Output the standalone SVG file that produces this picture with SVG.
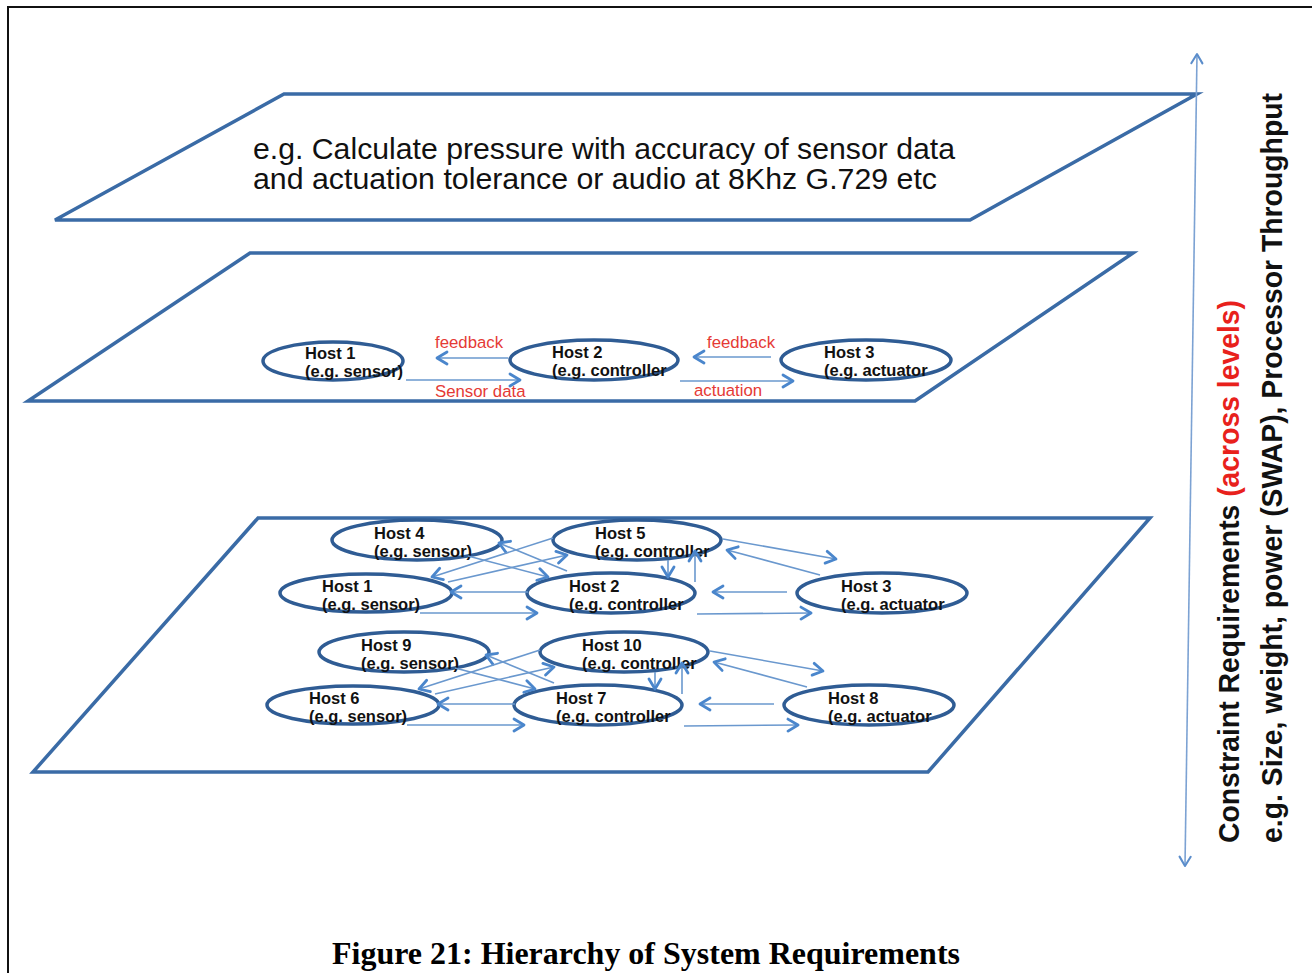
<svg xmlns="http://www.w3.org/2000/svg" width="1312" height="973" viewBox="0 0 1312 973">
  <style>
    .plane { fill: none; stroke: #3A6BA6; stroke-width: 3.5; stroke-linejoin: miter; }
    .node ellipse { fill: none; stroke: #2F5C94; stroke-width: 3.5; }
    .node text { font-family: "Liberation Sans", Arial, sans-serif; font-size: 16.5px; font-weight: bold; fill: #111; }
    .link { stroke: #6A98CE; stroke-width: 1.6; fill: none; marker-end: url(#ah); }
    .lbl { font-family: "Liberation Sans", Arial, sans-serif; font-size: 16.8px; fill: #E53A35; }
    .big { font-family: "Liberation Sans", Arial, sans-serif; font-size: 30px; fill: #111; }
    .side { font-family: "Liberation Sans", Arial, sans-serif; font-size: 30px; font-weight: bold; fill: #111; }
    .cap { font-family: "Liberation Serif", "Times New Roman", serif; font-size: 32px; font-weight: bold; fill: #000; }
  </style>
  <defs>
    <marker id="ah" viewBox="0 0 14 16" refX="12" refY="8" markerWidth="14" markerHeight="16" markerUnits="userSpaceOnUse" orient="auto">
      <path d="M2,2 L12,8 L2,14" fill="none" stroke="#4A86CC" stroke-width="2.8" stroke-linecap="round" stroke-linejoin="round"/>
    </marker>
    <marker id="ahv" viewBox="0 0 14 16" refX="12" refY="8" markerWidth="13" markerHeight="15" markerUnits="userSpaceOnUse" orient="auto-start-reverse">
      <path d="M2,2 L12,8 L2,14" fill="none" stroke="#5B8DCB" stroke-width="2.2" stroke-linecap="round" stroke-linejoin="round"/>
    </marker>
  </defs>

  <rect width="1312" height="973" fill="#fff"/>
  <!-- page frame -->
  <path d="M8,973 V7 H1312" fill="none" stroke="#111" stroke-width="2"/>

  <!-- three abstraction layers -->
  <g id="layer-top">
    <polygon class="plane" points="284,94 1197,94 970,220 55,220"/>
    <text class="big" x="253" y="159" textLength="702" lengthAdjust="spacingAndGlyphs">e.g. Calculate pressure with accuracy of sensor data</text>
    <text class="big" x="253" y="189" textLength="684" lengthAdjust="spacingAndGlyphs">and actuation tolerance or audio at 8Khz G.729 etc</text>
  </g>
  <g id="layer-middle">
    <polygon class="plane" points="250,253 1133,253 915,401 28,401"/>
  </g>
  <g id="layer-bottom">
    <polygon class="plane" points="258,518 1150,518 928,772 33,772"/>
  </g>

  <!-- middle layer hosts -->
  <g id="m-host1" class="node">
    <ellipse cx="333" cy="361" rx="70" ry="19"/>
    <text x="305" y="359">Host 1</text>
    <text x="305" y="377">(e.g. sensor)</text>
  </g>
  <g id="m-host2" class="node">
    <ellipse cx="594" cy="360" rx="84" ry="20"/>
    <text x="552" y="358">Host 2</text>
    <text x="552" y="376">(e.g. controller</text>
  </g>
  <g id="m-host3" class="node">
    <ellipse cx="866" cy="360" rx="85" ry="20"/>
    <text x="824" y="358">Host 3</text>
    <text x="824" y="376">(e.g. actuator</text>
  </g>

  <!-- bottom layer, cluster A -->
  <g id="b-host4" class="node">
    <ellipse cx="417" cy="540" rx="85" ry="20"/>
    <text x="374" y="539">Host 4</text>
    <text x="374" y="557">(e.g. sensor)</text>
  </g>
  <g id="b-host5" class="node">
    <ellipse cx="637" cy="540" rx="84" ry="20"/>
    <text x="595" y="539">Host 5</text>
    <text x="595" y="557">(e.g. controller</text>
  </g>
  <g id="b-host1" class="node">
    <ellipse cx="366" cy="593" rx="86" ry="19"/>
    <text x="322" y="592">Host 1</text>
    <text x="322" y="610">(e.g. sensor)</text>
  </g>
  <g id="b-host2" class="node">
    <ellipse cx="611" cy="593" rx="84" ry="20"/>
    <text x="569" y="592">Host 2</text>
    <text x="569" y="610">(e.g. controller</text>
  </g>
  <g id="b-host3" class="node">
    <ellipse cx="882" cy="593" rx="85" ry="20"/>
    <text x="841" y="592">Host 3</text>
    <text x="841" y="610">(e.g. actuator</text>
  </g>

  <!-- bottom layer, cluster B -->
  <g id="b-host9" class="node">
    <ellipse cx="404" cy="652" rx="85" ry="20"/>
    <text x="361" y="651">Host 9</text>
    <text x="361" y="669">(e.g. sensor)</text>
  </g>
  <g id="b-host10" class="node">
    <ellipse cx="624" cy="652" rx="84" ry="20"/>
    <text x="582" y="651">Host 10</text>
    <text x="582" y="669">(e.g. controller</text>
  </g>
  <g id="b-host6" class="node">
    <ellipse cx="353" cy="705" rx="86" ry="19"/>
    <text x="309" y="704">Host 6</text>
    <text x="309" y="722">(e.g. sensor)</text>
  </g>
  <g id="b-host7" class="node">
    <ellipse cx="598" cy="705" rx="84" ry="20"/>
    <text x="556" y="704">Host 7</text>
    <text x="556" y="722">(e.g. controller</text>
  </g>
  <g id="b-host8" class="node">
    <ellipse cx="869" cy="705" rx="85" ry="20"/>
    <text x="828" y="704">Host 8</text>
    <text x="828" y="722">(e.g. actuator</text>
  </g>

  <!-- connectors -->
  <g id="connectors">
    <!-- middle layer -->
    <line class="link" x1="508" y1="358" x2="437" y2="358"/>
    <line class="link" x1="406" y1="380" x2="520" y2="380"/>
    <line class="link" x1="771" y1="357" x2="694" y2="357"/>
    <line class="link" x1="680" y1="381" x2="793" y2="381"/>

    <!-- bottom layer, cluster A -->
    <g id="mesh-a">
      <line class="link" x1="567" y1="571" x2="499" y2="543"/>
      <line class="link" x1="468" y1="556" x2="548" y2="577"/>
      <line class="link" x1="553" y1="538" x2="432" y2="577"/>
      <line class="link" x1="448" y1="582" x2="567" y2="555"/>
      <line class="link" x1="528" y1="592" x2="451" y2="592"/>
      <line class="link" x1="420" y1="613" x2="537" y2="613"/>
      <line class="link" x1="668" y1="560" x2="668" y2="577"/>
      <line class="link" x1="695" y1="582" x2="695" y2="551"/>
      <line class="link" x1="723" y1="539" x2="836" y2="559"/>
      <line class="link" x1="820" y1="575" x2="727" y2="550"/>
      <line class="link" x1="787" y1="592" x2="713" y2="592"/>
      <line class="link" x1="697" y1="614" x2="811" y2="613"/>
    </g>
    <!-- bottom layer, cluster B -->
    <g id="mesh-b" transform="translate(-13,112)">
      <line class="link" x1="567" y1="571" x2="499" y2="543"/>
      <line class="link" x1="468" y1="556" x2="548" y2="577"/>
      <line class="link" x1="553" y1="538" x2="432" y2="577"/>
      <line class="link" x1="448" y1="582" x2="567" y2="555"/>
      <line class="link" x1="528" y1="592" x2="451" y2="592"/>
      <line class="link" x1="420" y1="613" x2="537" y2="613"/>
      <line class="link" x1="668" y1="560" x2="668" y2="577"/>
      <line class="link" x1="695" y1="582" x2="695" y2="551"/>
      <line class="link" x1="723" y1="539" x2="836" y2="559"/>
      <line class="link" x1="820" y1="575" x2="727" y2="550"/>
      <line class="link" x1="787" y1="592" x2="713" y2="592"/>
      <line class="link" x1="697" y1="614" x2="811" y2="613"/>
    </g>

    <!-- constraint axis across levels -->
    <line x1="1197" y1="54" x2="1185" y2="866" stroke="#7CA2D3" stroke-width="1.6" marker-start="url(#ahv)" marker-end="url(#ahv)"/>
  </g>

  <!-- connector labels -->
  <g id="labels">
    <text class="lbl" x="435" y="348">feedback</text>
    <text class="lbl" x="435" y="397">Sensor data</text>
    <text class="lbl" x="707" y="348">feedback</text>
    <text class="lbl" x="694" y="396">actuation</text>
  </g>

  <!-- side annotation -->
  <g id="axis-text">
    <text class="side" transform="translate(1239,843) rotate(-90)" textLength="543" lengthAdjust="spacingAndGlyphs">Constraint Requirements <tspan fill="#E8211C">(across levels)</tspan></text>
    <text class="side" transform="translate(1282,843) rotate(-90)" textLength="750" lengthAdjust="spacingAndGlyphs">e.g. Size, weight, power (SWAP), Processor Throughput</text>
  </g>

  <text class="cap" x="332" y="964" textLength="628" lengthAdjust="spacingAndGlyphs">Figure 21: Hierarchy of System Requirements</text>
</svg>
